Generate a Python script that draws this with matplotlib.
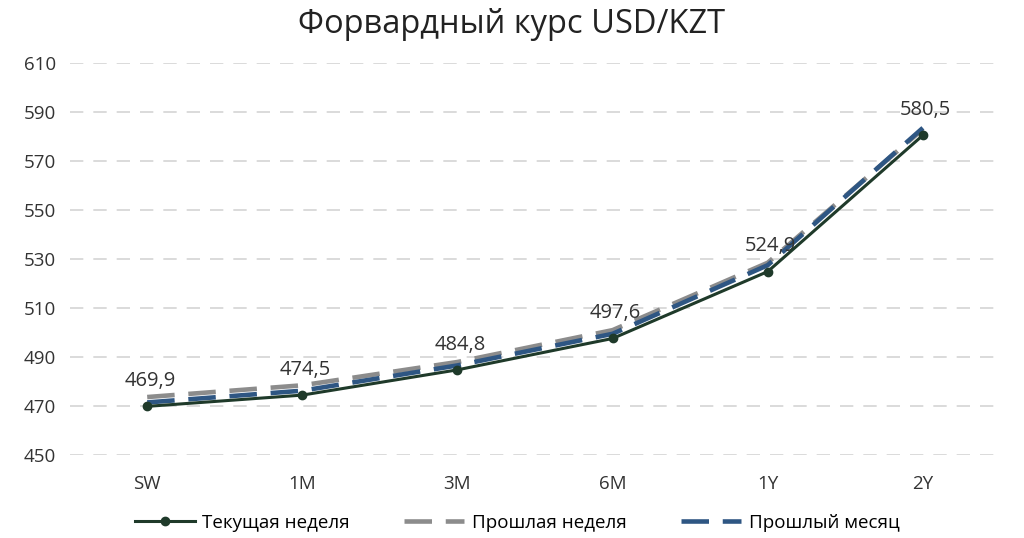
import matplotlib
matplotlib.use("Agg")
import matplotlib.pyplot as plt
import numpy as np

plt.rcParams['font.family'] = ['Open Sans', 'DejaVu Sans']

tenors = ['SW', '1M', '3M', '6M', '1Y', '2Y']
current_week = [469.9, 474.5, 484.8, 497.6, 524.9, 580.5]
last_week = [473.7, 478.5, 488.0, 501.0, 528.5, 583.0]
last_month = [471.5, 476.3, 486.6, 499.5, 527.5, 583.5]
current_labels = ['469,9', '474,5', '484,8', '497,6', '524,9', '580,5']

x = np.arange(len(tenors))

fig = plt.figure(figsize=(10.24, 5.38), dpi=100)
ax = fig.add_axes([0.068, 0.154, 0.909, 0.729])

ax.plot(x, last_week, color='#8c8c8c', lw=3.3, dashes=(6, 3), label='Прошлая неделя', zorder=2)
ax.plot(x, last_month, color='#2e5683', lw=3.3, dashes=(6, 3), label='Прошлый месяц', zorder=3)
ax.plot(x, current_week, color='#1f3a2a', lw=2.2, marker='o', ms=6, label='Текущая неделя', zorder=4)

for xi, yi, lab in zip(x, current_week, current_labels):
    ax.annotate(lab, (xi, yi), xytext=(2, 11), textcoords='offset points',
                ha='center', va='bottom', fontsize=14.5, color='#333333')

ax.set_xlim(-0.5, 5.5)
ax.set_ylim(450, 610)
ax.set_yticks(np.arange(450, 611, 20))
ax.set_xticks(x)
ax.set_xticklabels(tenors)
ax.tick_params(axis='both', length=0, labelsize=13.5, colors='#333333')
ax.tick_params(axis='x', pad=14)
ax.tick_params(axis='y', pad=10)
ax.yaxis.grid(True, color='#d4d4d4', lw=1.2, dashes=(8, 6))
for s in ax.spines.values():
    s.set_visible(False)

fig.suptitle('Форвардный курс USD/KZT', x=0.5, y=0.985, fontsize=23.5, color='#222222')

h, l = ax.get_legend_handles_labels()
order = [2, 0, 1]
fig.legend([h[i] for i in order], [l[i] for i in order], loc='lower center',
           ncol=3, frameon=False, fontsize=13.5, bbox_to_anchor=(0.505, -0.02),
           handlelength=3.2, handletextpad=0.4, columnspacing=2.9)

fig.savefig('out.png', dpi=100)
